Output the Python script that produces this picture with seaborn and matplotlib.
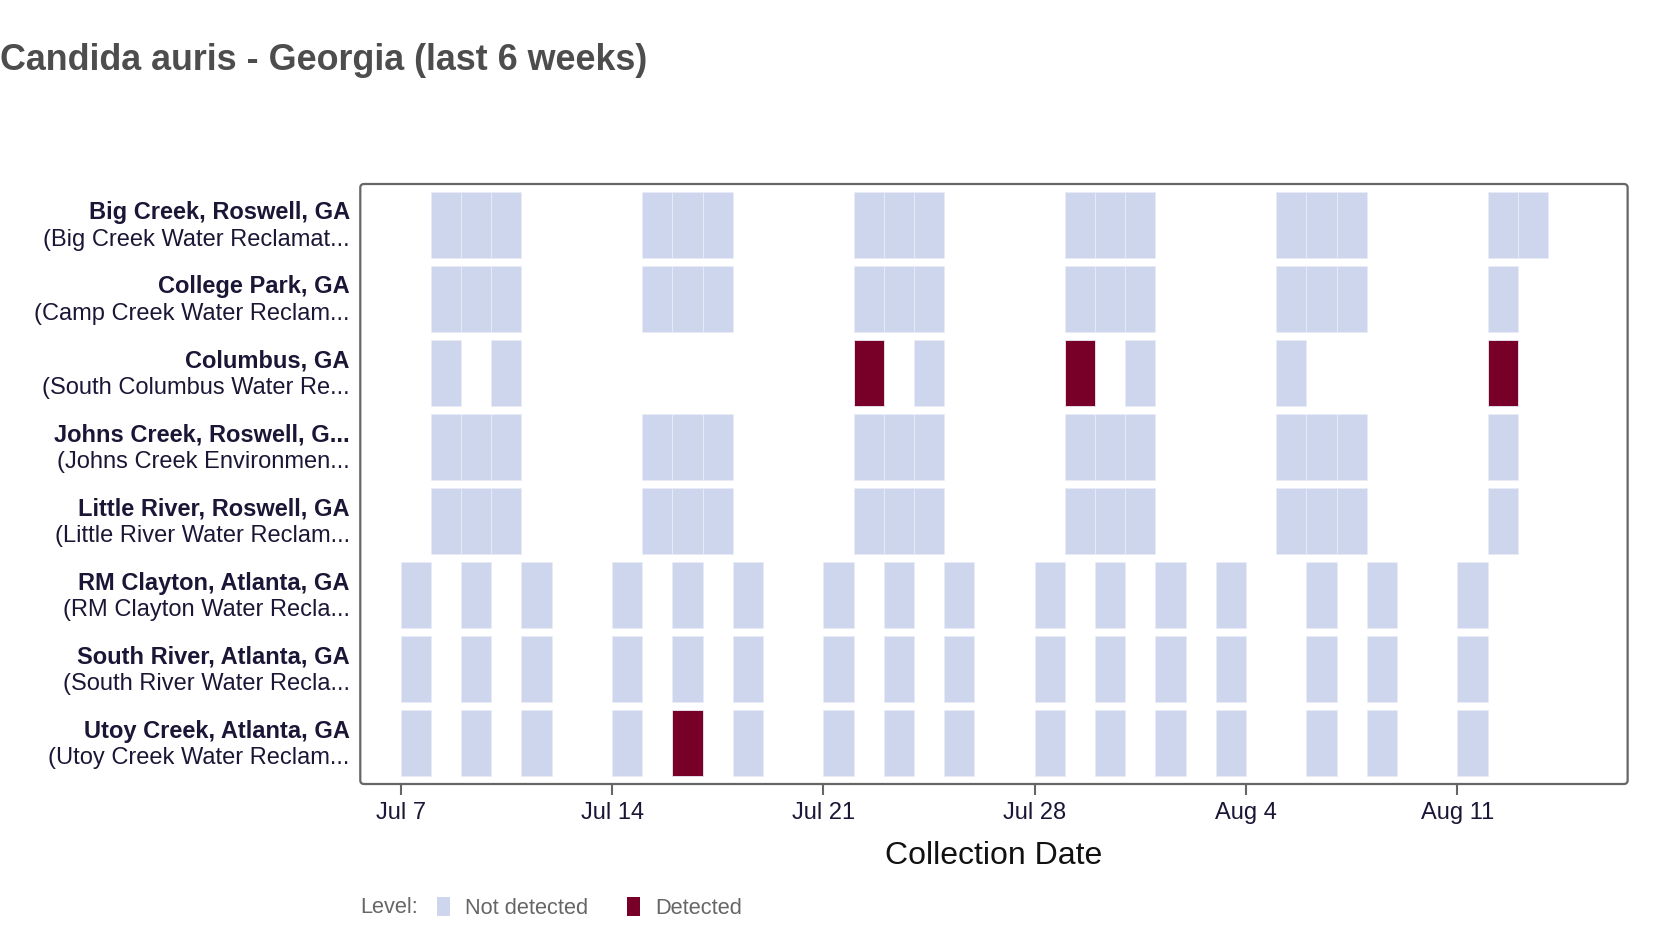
# IMPORTS
import pandas as pd
import seaborn as sns
import matplotlib.pyplot as plt
import matplotlib.dates as mdates
from matplotlib.patches import Patch, FancyBboxPatch

# DATA
sites = [
    "Big Creek, Roswell, GA",
    "College Park, GA",
    "Columbus, GA",
    "Johns Creek, Roswell, G...",
    "Little River, Roswell, GA",
    "RM Clayton, Atlanta, GA",
    "South River, Atlanta, GA",
    "Utoy Creek, Atlanta, GA",
]
facilities = [
    "(Big Creek Water Reclamat...",
    "(Camp Creek Water Reclam...",
    "(South Columbus Water Re...",
    "(Johns Creek Environmen...",
    "(Little River Water Reclam...",
    "(RM Clayton Water Recla...",
    "(South River Water Recla...",
    "(Utoy Creek Water Reclam...",
]

big_creek_dates = ["07-08", "07-09", "07-10", "07-15", "07-16", "07-17", "07-22", "07-23", "07-24",
                   "07-29", "07-30", "07-31", "08-05", "08-06", "08-07", "08-12", "08-13"]
college_park_dates = ["07-08", "07-09", "07-10", "07-15", "07-16", "07-17", "07-22", "07-23", "07-24",
                      "07-29", "07-30", "07-31", "08-05", "08-06", "08-07", "08-12"]
columbus_dates = ["07-08", "07-10", "07-22", "07-24", "07-29", "07-31", "08-05", "08-12"]
columbus_levels = ["N", "N", "D", "N", "D", "N", "N", "D"]
johns_creek_dates = college_park_dates
little_river_dates = college_park_dates
atlanta_dates = ["07-07", "07-09", "07-11", "07-14", "07-16", "07-18", "07-21", "07-23", "07-25",
                 "07-28", "07-30", "08-01", "08-03", "08-06", "08-08", "08-11"]
utoy_levels = ["N", "N", "N", "N", "D"] + ["N"] * 11

site_dates = [big_creek_dates, college_park_dates, columbus_dates, johns_creek_dates,
              little_river_dates, atlanta_dates, atlanta_dates, atlanta_dates]
site_levels = [None, None, columbus_levels, None, None, None, None, utoy_levels]

x_ticks = ["07-07", "07-14", "07-21", "07-28", "08-04", "08-11"]
x_tick_labels = ["Jul 7", "Jul 14", "Jul 21", "Jul 28", "Aug 4", "Aug 11"]

rows = []
for i, (dates, levels) in enumerate(zip(site_dates, site_levels)):
    if levels is None:
        levels = ["N"] * len(dates)
    for d, lv in zip(dates, levels):
        rows.append({"row": i, "date": pd.Timestamp("2025-" + d),
                     "level": "Detected" if lv == "D" else "Not detected"})
df = pd.DataFrame(rows)

# BUILD GRAPH
sns.set_theme(style="white")
plt.rcParams['font.family'] = ['Liberation Sans', 'DejaVu Sans']

palette = {"Not detected": "#CED6EE", "Detected": "#780028"}
text_col = "#1c1636"

fig = plt.figure(figsize=(16.68, 9.34), dpi=100)
ax = fig.add_axes([0.2160, 0.1606, 0.7598, 0.6424])

for lv, g in df.groupby("level"):
    ax.barh(g["row"], width=1.0, left=mdates.date2num(g["date"]), height=0.89,
            color=palette[lv], edgecolor="#E9ECF7", linewidth=0.6, align="center")

x0 = mdates.date2num(pd.Timestamp("2025-07-07"))
ax.set_xlim(x0 - 1.34, x0 + 40.64)
ax.set_ylim(7.55, -0.55)

ax.set_xticks(mdates.date2num(pd.to_datetime(["2025-" + t for t in x_ticks])))
ax.set_xticklabels(x_tick_labels, fontsize=17, color=text_col)
ax.tick_params(axis="x", which="both", direction="out", length=8, width=1.5,
               color="#666666", bottom=True, pad=5)
ax.set_yticks([])

# plot frame with slightly rounded corners
for s in ax.spines.values():
    s.set_visible(False)
frame = FancyBboxPatch((0, 0), 1, 1, boxstyle="round,pad=0,rounding_size=0.003",
                       mutation_aspect=2.1, transform=ax.transAxes, facecolor="none",
                       edgecolor="#666666", linewidth=1.6, clip_on=False, zorder=5)
ax.add_patch(frame)

ax.set_xlabel("Collection Date", fontsize=23, color="#111111", labelpad=12)

for i, (name, fac) in enumerate(zip(sites, facilities)):
    ax.text(-0.0084, i - 0.16, name, transform=ax.get_yaxis_transform(), ha="right",
            va="center", fontsize=17, fontweight="bold", color=text_col)
    ax.text(-0.0084, i + 0.20, fac, transform=ax.get_yaxis_transform(), ha="right",
            va="center", fontsize=17, color=text_col)

fig.text(0.0, 0.935, "Candida auris - Georgia (last 6 weeks)", ha="left", va="center",
         fontsize=25.8, fontweight="bold", color="#4d4d4d")

fig.text(0.2160, 0.028, "Level:", ha="left", va="center", fontsize=15.7, color="#666666")
handles = [Patch(facecolor=palette["Not detected"], edgecolor="none", label="Not detected"),
           Patch(facecolor=palette["Detected"], edgecolor="none", label="Detected")]
leg = fig.legend(handles=handles, loc="center left", bbox_to_anchor=(0.262, 0.028), ncol=2,
                 frameon=False, fontsize=15.7, handlelength=0.6, handleheight=1.0,
                 handletextpad=0.7, columnspacing=1.75, borderaxespad=0, borderpad=0)
for t in leg.get_texts():
    t.set_color("#666666")

plt.savefig("out.png", dpi=100)
